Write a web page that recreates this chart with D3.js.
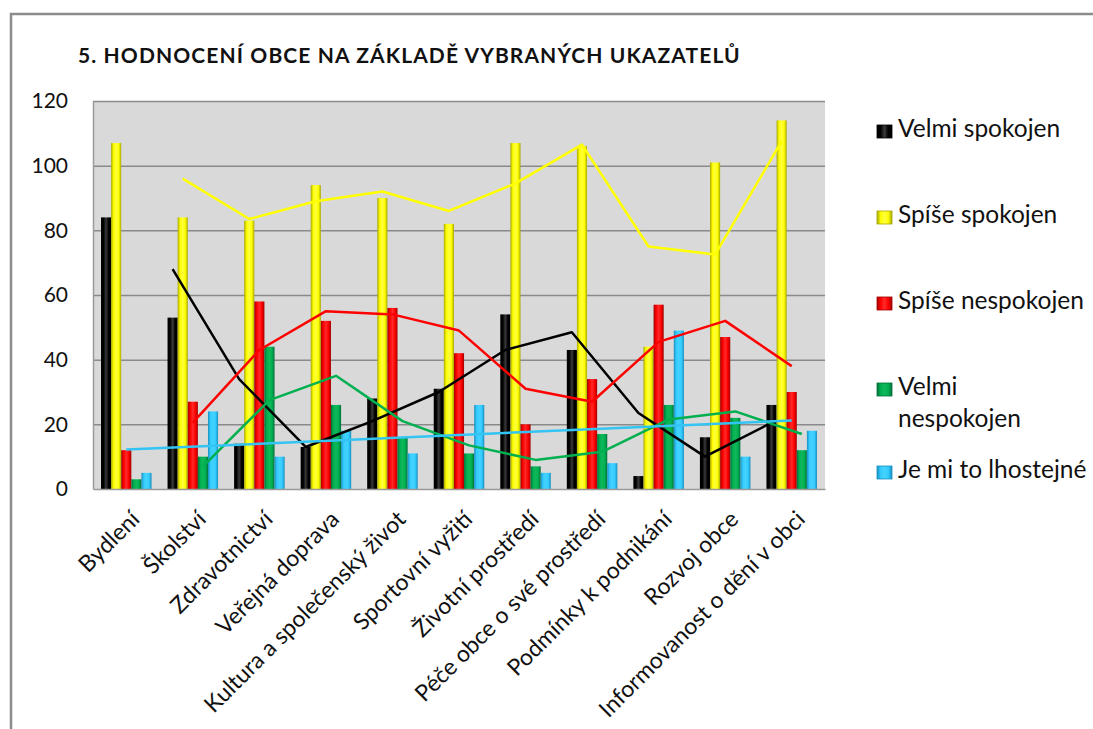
<!DOCTYPE html>
<html>
<head>
<meta charset="utf-8">
<script src="https://cdnjs.cloudflare.com/ajax/libs/d3/7.8.5/d3.min.js"></script>
<style>
  body { margin: 0; background: #fff; }
  svg { display: block; }
  text { font-family: Lato, "Open Sans", sans-serif; fill: #111; }
</style>
</head>
<body>
<svg id="svg0" width="1093" height="729"></svg>
<script>
// data
var categories = ["Bydlení", "Školství", "Zdravotnictví", "Veřejná doprava",
  "Kultura a společenský život", "Sportovní vyžití", "Životní prostředí",
  "Péče obce o své prostředí", "Podmínky k podnikání", "Rozvoj obce",
  "Informovanost o dění v obci"];
var seriesNames = ["Velmi spokojen", "Spíše spokojen", "Spíše nespokojen", "Velmi nespokojen", "Je mi to lhostejné"];

var velmiSpokojen   = [84, 53, 14, 13, 28, 31, 54, 43, 4, 16, 26];
var spiseSpokojen   = [107, 84, 83, 94, 90, 82, 107, 106, 44, 101, 114];
var spiseNespokojen = [12, 27, 58, 52, 56, 42, 20, 34, 57, 47, 30];
var velmiNespokojen = [3, 10, 44, 26, 16, 11, 7, 17, 26, 22, 12];
var lhostejne       = [5, 24, 10, 18, 11, 26, 5, 8, 49, 10, 18];

// trend lines as drawn in the picture (moving average lines, first point missing)
var velmiSpokojenTrend   = [null, 68, 34, 13, 21, 30, 43, 48.5, 23.5, 10, 20.5];
var spiseSpokojenTrend   = [null, 96, 83.5, 89, 92, 86, 94.5, 106.5, 75, 72.5, 107.5];
var spiseNespokojenTrend = [null, 20.5, 43, 55, 54, 49, 31, 27, 45.5, 52, 38];
var velmiNespokojenTrend = [null, 7, 27.5, 35, 21, 13.5, 9, 11.5, 21.5, 24, 17];
// straight (linear) trend for the last series: value at first and last category
var lhostejneTrend = [12.2, 21.2];

var yTicks = [0, 20, 40, 60, 80, 100, 120];

var values = [velmiSpokojen, spiseSpokojen, spiseNespokojen, velmiNespokojen, lhostejne];
var trends = [velmiSpokojenTrend, spiseSpokojenTrend, spiseNespokojenTrend, velmiNespokojenTrend];

var colors = ["#000000", "#ffff00", "#ff0000", "#00b050", "#33ccff"];
var edges  = ["#000000", "#a8a800", "#a00000", "#00703a", "#1a8fc0"];
var mids   = ["#3a3a3a", "#ffff40", "#ff2a2a", "#10b85a", "#45d2ff"];
var lineColors = ["#000000", "#ffff00", "#ff0000", "#00b050", "#33c4f4"];

var svg = d3.select('#svg0');

// outer frame
svg.append('path')
    .attr('d', 'M11,729V14H1093')
    .attr('fill', 'none')
    .attr('stroke', '#8c8c8c')
    .attr('stroke-width', 2.5);

var plotLeft = 93, plotRight = 825, plotTop = 101, plotBottom = 489;

var x0 = d3.scaleBand()
    .domain(categories)
    .range([plotLeft, plotRight])
    .padding(0);

var x1 = d3.scaleBand()
    .domain(d3.range(seriesNames.length))
    .range([8, x0.bandwidth() - 8])
    .padding(0);

var y = d3.scaleLinear()
    .domain([0, 120])
    .range([plotBottom, plotTop]);

// gradients for the bevelled bars
var defs = svg.append('defs');
colors.forEach(function (c, i) {
    var g = defs.append('linearGradient')
        .attr('id', 'grad' + i)
        .attr('x1', '0%').attr('x2', '100%').attr('y1', '0%').attr('y2', '0%');
    g.append('stop').attr('offset', '0%').attr('stop-color', edges[i]);
    g.append('stop').attr('offset', '25%').attr('stop-color', c);
    g.append('stop').attr('offset', '50%').attr('stop-color', mids[i]);
    g.append('stop').attr('offset', '75%').attr('stop-color', c);
    g.append('stop').attr('offset', '100%').attr('stop-color', edges[i]);
});

// plot background
svg.append('rect')
    .attr('x', plotLeft)
    .attr('y', plotTop)
    .attr('width', plotRight - plotLeft)
    .attr('height', plotBottom - plotTop)
    .attr('fill', '#d9d9d9');

// gridlines
svg.append('g')
    .attr('class', 'grid')
    .attr('transform', 'translate(' + plotLeft + ',0)')
    .call(d3.axisLeft(y).tickValues(yTicks.slice(1)).tickSize(-(plotRight - plotLeft)).tickFormat(''))
    .call(function (g) { g.select('.domain').remove(); })
    .selectAll('line')
    .attr('stroke', '#8a8a8a')
    .attr('stroke-width', 1.5);

// y axis
svg.append('g')
    .attr('transform', 'translate(' + plotLeft + ',0)')
    .call(d3.axisLeft(y).tickValues(yTicks).tickSize(0).tickPadding(25))
    .call(function (g) {
        g.select('.domain').attr('stroke', '#9a9a9a').attr('stroke-width', 1.5);
        g.selectAll('text')
            .attr('font-size', '21px')
            .style('font-family', 'Lato')
            .attr('fill', '#111');
    });

// bars
var groups = svg.append('g')
    .selectAll('g')
    .data(categories)
    .enter()
    .append('g')
    .attr('transform', function (d) { return 'translate(' + x0(d) + ',0)'; });

groups.selectAll('rect')
    .data(function (d, ci) {
        return values.map(function (s, si) { return { si: si, v: s[ci] }; });
    })
    .enter()
    .append('rect')
    .attr('x', function (d) { return x1(d.si); })
    .attr('y', function (d) { return y(d.v); })
    .attr('width', x1.bandwidth())
    .attr('height', function (d) { return y(0) - y(d.v); })
    .attr('fill', function (d) { return 'url(#grad' + d.si + ')'; });

// bottom axis
svg.append('g')
    .attr('transform', 'translate(0,' + plotBottom + ')')
    .call(d3.axisBottom(x0).tickSize(0).tickFormat(''))
    .select('.domain')
    .attr('stroke', '#9a9a9a')
    .attr('stroke-width', 1.5);

// moving average lines, each point sits over its own bar
var line = d3.line()
    .defined(function (d) { return d.v != null; })
    .x(function (d) { return d.x; })
    .y(function (d) { return y(d.v); });

trends.forEach(function (t, si) {
    var pts = t.map(function (v, ci) {
        return { x: x0(categories[ci]) + x1(si) + x1.bandwidth() / 2, v: v };
    });
    svg.append('path')
        .datum(pts)
        .attr('d', line)
        .attr('fill', 'none')
        .attr('stroke', lineColors[si])
        .attr('stroke-width', 2.5)
        .attr('stroke-linejoin', 'round');
});

// linear trend of the last series, category centres
var first = categories[0], last = categories[categories.length - 1];
svg.append('path')
    .datum([
        { x: x0(first) + x0.bandwidth() / 2, v: lhostejneTrend[0] },
        { x: x0(last) + x0.bandwidth() / 2, v: lhostejneTrend[1] }
    ])
    .attr('d', line)
    .attr('fill', 'none')
    .attr('stroke', lineColors[4])
    .attr('stroke-width', 2.5);

// category labels
svg.append('g')
    .selectAll('text')
    .data(categories)
    .enter()
    .append('text')
    .attr('transform', function (d) {
        return 'translate(' + (x0(d) + x0.bandwidth() / 2 + 3) + ',' + 509 + ') rotate(-45)';
    })
    .attr('text-anchor', 'end')
    .attr('dy', '0.72em')
    .attr('font-size', '23px')
    .text(function (d) { return d; });

// title
svg.append('text')
    .attr('x', 78)
    .attr('y', 63)
    .attr('font-size', '21px')
    .attr('font-weight', 'bold')
    .attr('letter-spacing', '1.1px')
    .text('5. HODNOCENÍ OBCE NA ZÁKLADĚ VYBRANÝCH UKAZATELŮ');

// legend
var legendBase = [137, 223, 309, 395, 478];
var legendLines = [["Velmi spokojen"], ["Spíše spokojen"], ["Spíše nespokojen"], ["Velmi", "nespokojen"], ["Je mi to lhostejné"]];

var legend = svg.append('g')
    .selectAll('g')
    .data(seriesNames)
    .enter()
    .append('g')
    .attr('transform', function (d, i) { return 'translate(877,' + legendBase[i] + ')'; });

legend.append('rect')
    .attr('x', 0)
    .attr('y', -12)
    .attr('width', 15)
    .attr('height', 13)
    .attr('fill', function (d, i) { return 'url(#grad' + i + ')'; })
    .attr('stroke', function (d, i) { return edges[i]; })
    .attr('stroke-width', 0.8);

legend.each(function (d, i) {
    var t = d3.select(this).append('text')
        .attr('x', 21)
        .attr('y', 0)
        .attr('font-size', '24.5px');
    legendLines[i].forEach(function (s, k) {
        t.append('tspan').attr('x', 21).attr('dy', k === 0 ? 0 : 32).text(s);
    });
});
</script>
</body>
</html>
